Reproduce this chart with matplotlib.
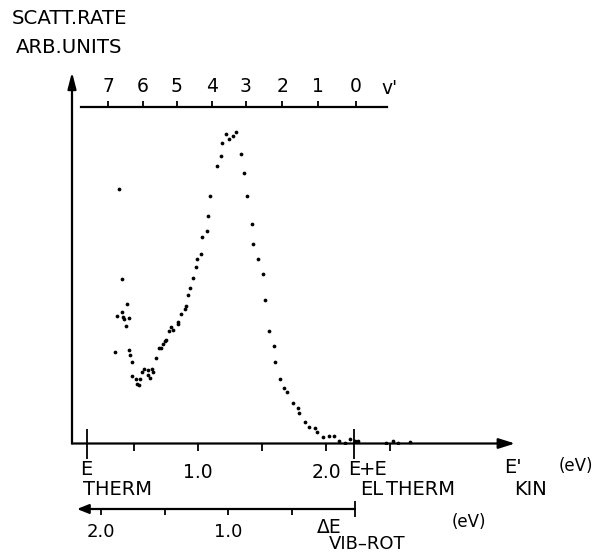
import matplotlib
matplotlib.use('Agg')
import matplotlib.pyplot as plt

# ---------------- data ----------------
# E'_KIN (eV) and scattering rate (arb. units)
e_kin = [0.354, 0.367, 0.383, 0.404, 0.409, 0.416, 0.424, 0.438, 0.445, 0.459,
         0.461, 0.466, 0.484, 0.484, 0.513, 0.523, 0.539, 0.549, 0.565, 0.578,
         0.607, 0.612, 0.625, 0.641, 0.651, 0.670, 0.693, 0.711, 0.724, 0.740,
         0.752, 0.776, 0.789, 0.807, 0.846, 0.846, 0.870, 0.895, 0.909, 0.920,
         0.936, 0.963, 0.982, 0.992, 1.023, 1.034, 1.068, 1.076, 1.096, 1.148,
         1.180, 1.188, 1.219, 1.242, 1.271, 1.295, 1.336, 1.359, 1.380, 1.420,
         1.432, 1.469, 1.505, 1.521, 1.557, 1.596, 1.604, 1.643, 1.674, 1.698,
         1.745, 1.784, 1.789, 1.838, 1.870, 1.914, 1.930, 1.979, 2.021, 2.060,
         2.099, 2.151, 2.188, 2.224, 2.250, 2.466, 2.521, 2.560, 2.659]
rate = [29.6, 41.2, 82.1, 53.1, 42.4, 40.9, 40.1, 37.8, 45.0, 40.6,
        30.1, 28.6, 26.4, 21.7, 20.7, 19.1, 19.0, 20.8, 23.1, 23.9,
        23.6, 22.0, 21.1, 24.1, 23.1, 27.6, 30.7, 30.7, 32.1, 33.1,
        33.4, 36.2, 37.5, 36.5, 39.3, 38.5, 41.7, 43.3, 44.5, 48.0,
        50.0, 53.3, 56.8, 59.6, 61.1, 66.7, 68.5, 73.5, 79.7, 89.5,
        92.8, 97.0, 99.7, 98.3, 99.3, 100.5, 93.3, 87.3, 79.7, 70.8,
        64.4, 59.6, 54.7, 46.4, 36.3, 31.5, 26.4, 20.7, 17.8, 16.5,
        13.0, 11.5, 9.9, 7.0, 5.4, 4.9, 3.8, 2.0, 2.4, 2.4,
        0.7, 0.3, 1.5, 0.8, 0.7, 0.3, 0.9, 0.2, 0.6]

vprime_levels = [7, 6, 5, 4, 3, 2, 1, 0]
vprime_ekin = [0.299, 0.568, 0.834, 1.107, 1.375, 1.659, 1.935, 2.232]

ekin_ticks = [0.5, 1.0, 1.5, 2.0, 2.5]
ekin_ticklabels = ['', '1.0', '', '2.0', '']
e_therm = 0.133
e_el_therm = 2.22

dvib_ticks = [2.0, 1.5, 1.0, 0.5]
dvib_ticklabels = ['2.0', '', '1.0', '']

# ---------------- figure ----------------
plt.rcParams['font.family'] = ['DejaVu Sans']
W, H = 596, 552
fig = plt.figure(figsize=(W / 100, H / 100), dpi=100)


def fx(px):
    return px / W


def fy(py):
    return 1 - py / H


FS = 13.5
arrow_kw = dict(arrowstyle='-|>,head_length=0.7,head_width=0.22', lw=1.6,
                color='black', shrinkA=0, shrinkB=0, mutation_scale=14)

# main axes
x0, x1, yb, yt = 72, 515, 443.5, 72
ax = fig.add_axes([fx(x0), fy(yb), (x1 - x0) / W, (yb - yt) / H])
ax.set_xlim(0.016, 3.477)
ax.set_ylim(0, 119.8)
ax.patch.set_alpha(0)
for s in ax.spines.values():
    s.set_visible(False)
ax.plot(e_kin, rate, linestyle='none', marker='o', markersize=2.7,
        color='black', markeredgewidth=0)
ax.annotate('', xy=(1, 0), xytext=(0, 0), xycoords='axes fraction',
            arrowprops=arrow_kw)
ax.annotate('', xy=(0, 1), xytext=(0, 0), xycoords='axes fraction',
            arrowprops=dict(arrow_kw, arrowstyle='-|>,head_length=0.7,head_width=0.18'))
ax.set_yticks([])
ax.set_xticks(ekin_ticks)
ax.set_xticklabels(ekin_ticklabels)
ax.set_xticks([e_therm, e_el_therm], minor=True)
ax.tick_params(axis='x', which='major', direction='out', length=5, width=1.3,
               labelsize=FS, pad=9)
ax.tick_params(axis='x', which='minor', direction='inout', length=22,
               width=1.3)

# top v' scale
axv = fig.add_axes([fx(81), fy(108), (387 - 81) / W, 1 / H])
axv.set_xlim(0.0859, 2.4766)
axv.patch.set_alpha(0)
for k, s in axv.spines.items():
    s.set_visible(k == 'top')
axv.spines['top'].set_linewidth(1.6)
axv.set_yticks([])
axv.xaxis.set_ticks_position('top')
axv.set_xticks(vprime_ekin)
axv.set_xticklabels([str(v) for v in vprime_levels])
axv.tick_params(axis='x', direction='out', length=4, width=1.3,
                labelsize=FS, pad=4)

# bottom delta E scale
axd = fig.add_axes([fx(77), fy(509), (355 - 77) / W, 1 / H])
axd.set_xlim(2.189, 0)
axd.patch.set_alpha(0)
for s in axd.spines.values():
    s.set_visible(False)
axd.annotate('', xy=(0, 0), xytext=(1, 0), xycoords='axes fraction',
             arrowprops=dict(arrow_kw, arrowstyle='-|>,head_length=0.5,head_width=0.2'))
axd.set_yticks([])
axd.set_xticks(dvib_ticks)
axd.set_xticklabels(dvib_ticklabels)
axd.set_xticks([0.0], minor=True)
axd.tick_params(axis='x', which='major', direction='out', length=4, width=1.3,
                labelsize=13, pad=6)
axd.tick_params(axis='x', which='minor', direction='inout', length=12,
                width=1.3)


def txt(px, py, s, size=FS, ha='left', va='top'):
    fig.text(fx(px), fy(py), s, fontsize=size, ha=ha, va=va, color='black')


txt(12, 9, 'SCATT.RATE', size=14.2)
txt(16, 38, 'ARB.UNITS', size=14.2)
txt(381, 79, "v'")

txt(80, 460, 'E', size=14)
txt(83, 480, 'THERM', size=14)
txt(348, 460, 'E', size=14)
txt(360, 480, 'EL', size=14)
txt(359, 460, '+E', size=14)
txt(386, 480, 'THERM', size=14)
txt(504, 458, "E'", size=14)
txt(514, 480, 'KIN', size=14)
txt(559, 466, '(eV)', size=12, va='center')

txt(317, 518, '\u0394E', size=13.5)
txt(329, 535, 'VIB\u2013ROT', size=13)
txt(452, 522, '(eV)', size=12, va='center')

fig.savefig('out.png', dpi=100, facecolor='white')
